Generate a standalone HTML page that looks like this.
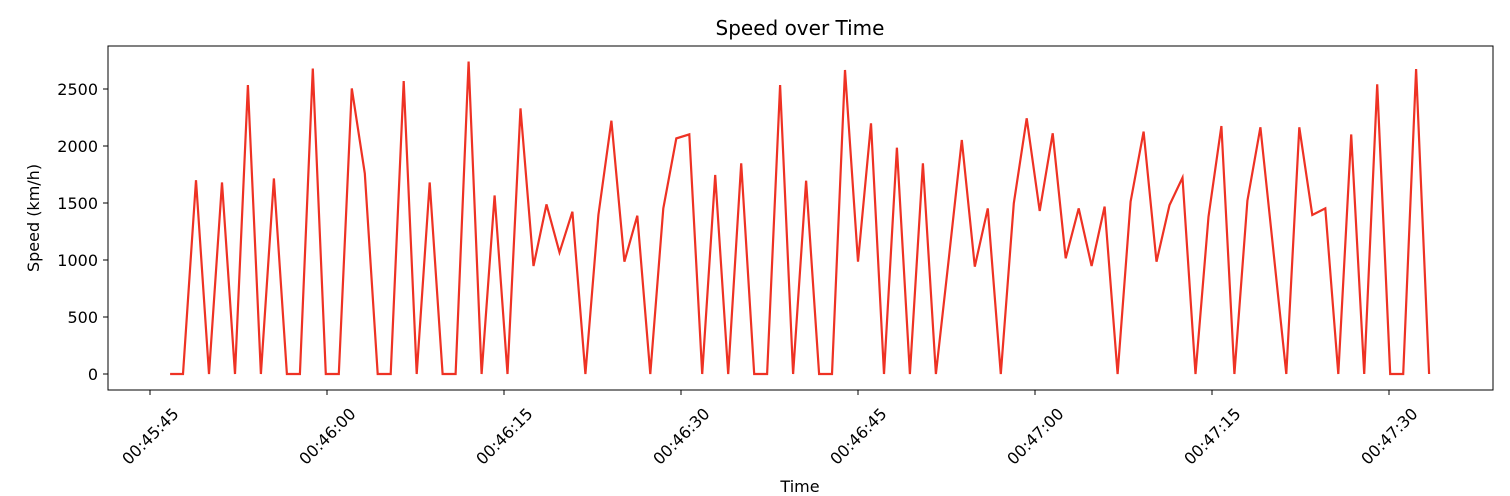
<!DOCTYPE html>
<html><head><meta charset="utf-8"><style>
body{margin:0;background:#fff;}
svg{display:block;font-family:"DejaVu Sans","Liberation Sans",sans-serif;}
</style></head><body>
<svg id="chart" width="1510" height="496" viewBox="0 0 1510 496">
<text x="800" y="35" text-anchor="middle" font-size="20">Speed over Time</text>
<g id="yt"></g><g id="xt"></g>
<polyline id="line" fill="none" stroke="#ee3224" stroke-width="2.2" stroke-linejoin="miter"/>
<rect x="108" y="46" width="1385" height="344" fill="none" stroke="#000" stroke-width="1"/>
<text x="800" y="492" text-anchor="middle" font-size="16">Time</text>
<text transform="translate(39,218) rotate(-90)" text-anchor="middle" font-size="16">Speed (km/h)</text>
</svg>
<script>
const startSec = 46.7;
const stepSec = 1.1;
const speeds = [0,0,1700,0,1680,0,2535,0,1715,0,0,2680,0,0,2505,1760,0,0,2570,0,1680,0,0,2740,0,1567,0,2330,947,1488,1067,1424,0,1395,2222,985,1389,0,1453,2067,2102,0,1746,0,1848,0,0,2535,0,1696,0,0,2667,985,2199,0,1985,0,1848,0,1020,2053,942,1453,0,1497,2243,1430,2111,1015,1453,947,1468,0,1512,2126,985,1482,1722,0,1380,2175,0,1520,2164,1080,0,2164,1395,1453,0,2102,0,2541,0,0,2675,0];
const yTicks = [0,500,1000,1500,2000,2500];
const xTickSecs = [45,60,75,90,105,120,135,150];
const xTickLabels = ["00:45:45","00:46:00","00:46:15","00:46:30","00:46:45","00:47:00","00:47:15","00:47:30"];
const NS="http://www.w3.org/2000/svg";
function X(s){return 150+(s-45)*11.8;}
function Y(v){return 374-v*0.114;}
const yt=document.getElementById('yt'), xt=document.getElementById('xt');
yTicks.forEach(v=>{
  const l=document.createElementNS(NS,'line');
  
  
  l.setAttribute('x1',103);l.setAttribute('x2',108);l.setAttribute('y1',Y(v));l.setAttribute('y2',Y(v));l.setAttribute('stroke','#000');
  yt.appendChild(l);
  const t=document.createElementNS(NS,'text');
  
  
  t.setAttribute('x',98);t.setAttribute('y',Y(v)+6);t.setAttribute('text-anchor','end');t.setAttribute('font-size','16');
  t.textContent=v;yt.appendChild(t);
});
xTickSecs.forEach((s,i)=>{
  const x=X(s);
  const l=document.createElementNS(NS,'line');
  
  
  l.setAttribute('x1',x);l.setAttribute('x2',x);l.setAttribute('y1',390);l.setAttribute('y2',395);l.setAttribute('stroke','#000');
  xt.appendChild(l);
  const t=document.createElementNS(NS,'text');
  
  
  t.setAttribute('x',x);t.setAttribute('y',442);t.setAttribute('text-anchor','middle');t.setAttribute('font-size','16');
  t.setAttribute('transform','rotate(-45 '+x+' 436)');
  t.textContent=xTickLabels[i];xt.appendChild(t);
});
document.getElementById('line').setAttribute('points',speeds.map((v,i)=>X(startSec+i*stepSec).toFixed(1)+','+Y(v).toFixed(1)).join(' '));
</script>
</body></html>
